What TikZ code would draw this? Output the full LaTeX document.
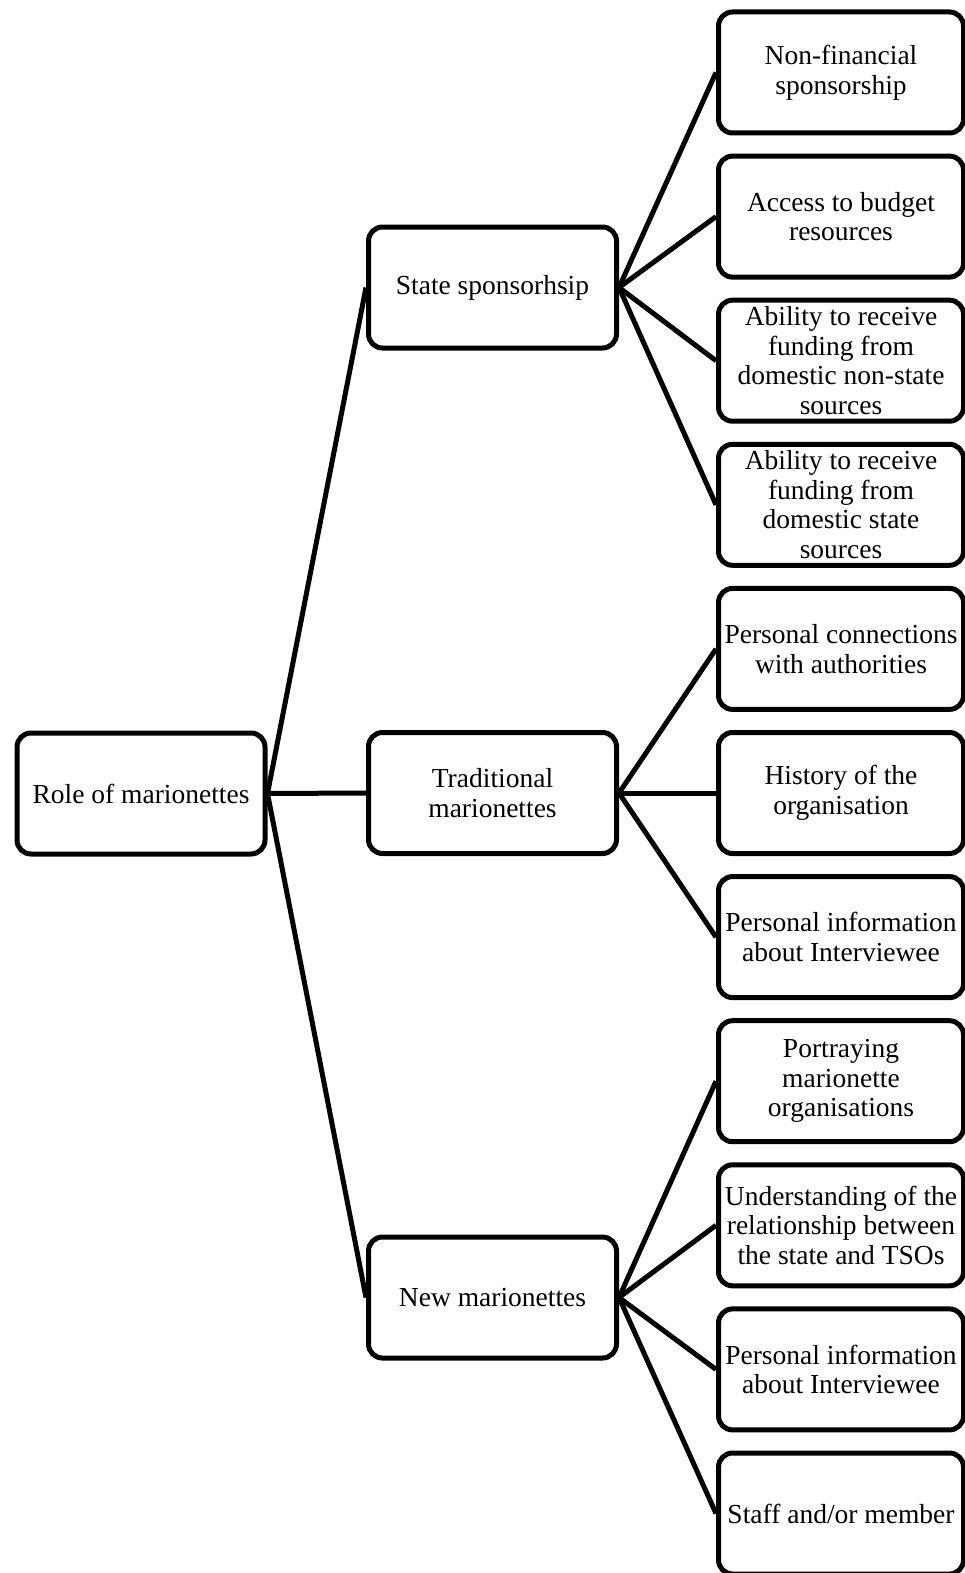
\documentclass[tikz,border=0pt]{standalone}
\usepackage{fontspec}
\setmainfont{Liberation Serif}
\begin{document}
\begin{tikzpicture}[x=1pt,y=-1pt,
  box/.style={draw=black,line width=5pt,rounded corners=14pt,minimum width=248pt,minimum height=121pt,
    inner sep=0pt,align=center,font=\fontsize{27.5}{29.5}\selectfont},
  leaf/.style={box,minimum width=245pt},
  link/.style={draw=black,line width=5pt}]
\useasboundingbox (0,0) rectangle (965,1573);
\clip (0,0) rectangle (965,1573);
% root
\node[box] (root) at (141,793.5) {Role of marionettes};
% middle
\node[box] (m1) at (492.5,287.5) {State sponsorhsip};
\node[box] (m2) at (492.5,793) {Traditional\\marionettes};
\node[box] (m3) at (492.5,1297.5) {New marionettes};
% leaves
\node[leaf] (l1) at (841,72.5) {Non-financial\\sponsorship};
\node[leaf] (l2) at (841,216.6) {Access to budget\\resources};
\node[leaf] (l3) at (841,360.7) {Ability to receive\\funding from\\domestic non-state\\sources};
\node[leaf] (l4) at (841,504.8) {Ability to receive\\funding from\\domestic state\\sources};
\node[leaf] (l5) at (841,648.9) {Personal connections\\with authorities};
\node[leaf] (l6) at (841,793) {History of the\\organisation};
\node[leaf] (l7) at (841,937.1) {Personal information\\about Interviewee};
\node[leaf] (l8) at (841,1081.2) {Portraying\\marionette\\organisations};
\node[leaf] (l9) at (841,1225.3) {Understanding of the\\relationship between\\the state and TSOs};
\node[leaf] (l10) at (841,1369.4) {Personal information\\about Interviewee};
\node[leaf] (l11) at (841,1513.5) {Staff and/or member};
% connectors
\foreach \m in {m1,m2,m3} \draw[link] (root.east) -- (\m.west);
\foreach \l in {l1,l2,l3,l4} \draw[link] (m1.east) -- (\l.west);
\foreach \l in {l5,l6,l7} \draw[link] (m2.east) -- (\l.west);
\foreach \l in {l8,l9,l10,l11} \draw[link] (m3.east) -- (\l.west);
\end{tikzpicture}
\end{document}
